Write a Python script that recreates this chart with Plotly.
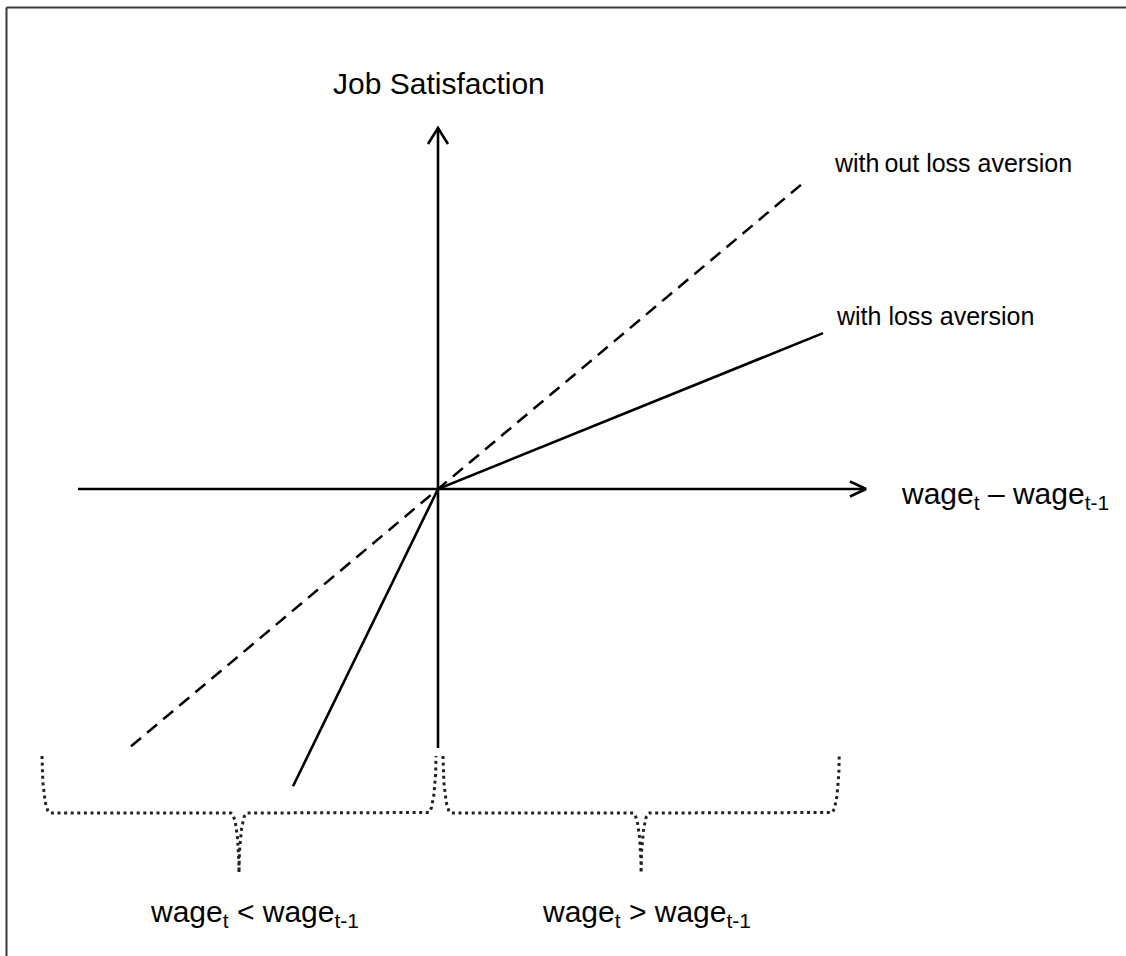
import numpy as np
import plotly.graph_objects as go

# ---- data (conceptual units; origin = no wage change) ----
x_axis_span = [-9.0, 10.7]          # horizontal axis extent
y_axis_span = [-6.475, 9.025]       # vertical axis extent
no_loss_x = [-7.675, 9.2]           # line without loss aversion (endpoints' x)
no_loss_slope = 0.838
loss_x = [-3.625, 9.625]            # line with loss aversion (endpoints' x)
loss_slope_gain = 0.405
loss_slope_loss = 2.05
brace_spans = [(-9.9, -0.05), (0.125, 10.03)]
brace_levels = [-6.675, -8.1, -9.6]  # top, bar, tip
labels_lines = ["with\u2009out loss aversion", "with loss aversion"]
label_axis_x = "wage<sub>t</sub> \u2013 wage<sub>t-1</sub>"
label_axis_y = "Job Satisfaction"
brace_labels = ["wage<sub>t</sub> < wage<sub>t-1</sub>", "wage<sub>t</sub> > wage<sub>t-1</sub>"]

W, H = 1126, 956
S = 40.0  # px per unit
OX, OY = 438, 489
xr = [-OX / S, (W - OX) / S]
yr = [-(H - OY) / S, OY / S]

fig = go.Figure()
blk = "#000000"

def line(xs, ys, width=2.6, dash="solid", color=blk):
    fig.add_trace(go.Scatter(x=xs, y=ys, mode="lines", hoverinfo="skip",
                             line=dict(color=color, width=width, dash=dash),
                             showlegend=False))

# axes
line(x_axis_span, [0, 0])
line([0, 0], y_axis_span)
# arrow chevrons
a_back, a_side = 0.4, 0.25
tx = x_axis_span[1]
line([tx - a_back, tx, tx - a_back], [a_side * 0.75, 0, -a_side * 0.75])
ty = y_axis_span[1]
line([-a_side, 0, a_side], [ty - a_back, ty, ty - a_back])

# without loss aversion (dashed)
line(no_loss_x, [no_loss_slope * v for v in no_loss_x], width=2.5, dash="13px,8px")
# with loss aversion (kinked)
line([loss_x[0], 0, loss_x[1]],
     [loss_slope_loss * loss_x[0], 0, loss_slope_gain * loss_x[1]], width=2.6)

# braces
def brace(x0, x1, ytop, ybar, ytip, dx=0.2):
    xm = (x0 + x1) / 2
    th = np.linspace(0, np.pi / 2, 25)
    px, py = [], []
    px += list(x0 + dx * (1 - np.cos(th))); py += list(ytop + (ybar - ytop) * np.sin(th))
    px += list(xm - dx + dx * np.sin(th)); py += list(ytip + (ybar - ytip) * np.cos(th))
    th2 = th[::-1]
    px += list(xm + dx - dx * np.sin(th2)); py += list(ytip + (ybar - ytip) * np.cos(th2))
    px += list(x1 - dx * (1 - np.cos(th2))); py += list(ytop + (ybar - ytop) * np.sin(th2))
    return px, py

for (b0, b1) in brace_spans:
    bx, by = brace(b0, b1, *brace_levels)
    line(bx, by, width=3, dash="3px,3.6px", color="#222222")

font = "Liberation Sans, Arial, sans-serif"
ann = []
ann.append(dict(x=0.03, y=10.15, text=label_axis_y, xanchor="center", yanchor="middle",
                font=dict(size=30, family=font, color=blk)))
ann.append(dict(x=9.85, y=8.15, text=labels_lines[0], xanchor="left", yanchor="middle",
                font=dict(size=25, family=font, color=blk)))
ann.append(dict(x=9.9, y=4.325, text=labels_lines[1], xanchor="left", yanchor="middle",
                font=dict(size=25, family=font, color=blk)))
ann.append(dict(x=11.525, y=-0.15, text=label_axis_x, xanchor="left", yanchor="middle",
                font=dict(size=30, family=font, color=blk)))
for cx, t in zip([-4.6, 5.2], brace_labels):
    ann.append(dict(x=cx, y=-10.6, text=t, xanchor="center", yanchor="middle",
                    font=dict(size=30, family=font, color=blk)))
for a in ann:
    a.update(showarrow=False, xref="x", yref="y")

fig.update_layout(
    width=W, height=H, margin=dict(l=0, r=0, t=0, b=0),
    paper_bgcolor="white", plot_bgcolor="white",
    xaxis=dict(range=xr, visible=False, fixedrange=True),
    yaxis=dict(range=yr, visible=False, fixedrange=True),
    annotations=ann,
    shapes=[
        dict(type="line", xref="paper", yref="paper", x0=6.5 / W, x1=1.0,
             y0=1 - 7.5 / H, y1=1 - 7.5 / H, line=dict(color="#3a3a3a", width=2)),
        dict(type="line", xref="paper", yref="paper", x0=6.5 / W, x1=6.5 / W,
             y0=0, y1=1 - 7.5 / H, line=dict(color="#3a3a3a", width=2)),
    ],
)
fig.write_html("out.html", config={"displayModeBar": False},
               post_script="document.body.style.margin='0';document.body.style.overflow='hidden';")
